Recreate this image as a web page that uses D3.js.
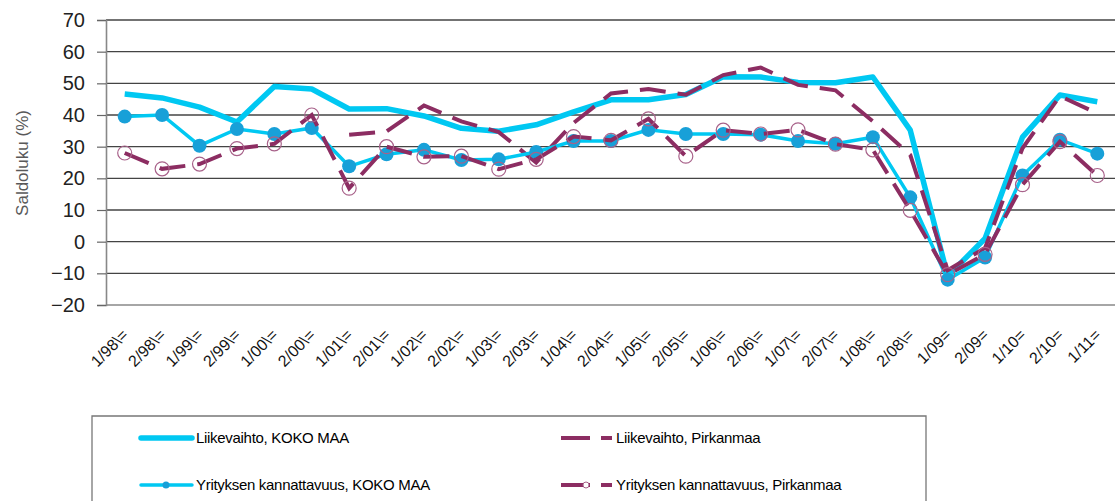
<!DOCTYPE html>
<html>
<head>
<meta charset="utf-8">
<script src="https://cdn.jsdelivr.net/npm/d3@7"></script>
<style>
  body { margin: 0; background: #fff; }
  #chart { width: 1115px; height: 501px; }
  text { font-family: "Liberation Sans", Arial, sans-serif; }
</style>
</head>
<body>
<div id="chart"></div>
<script>
//Datos
const periodos = ['1/98\\=','2/98\\=','1/99\\=','2/99\\=','1/00\\=','2/00\\=','1/01\\=','2/01\\=','1/02\\=','2/02\\=',
    '1/03\\=','2/03\\=','1/04\\=','2/04\\=','1/05\\=','2/05\\=','1/06\\=','2/06\\=','1/07\\=','2/07\\=',
    '1/08\\=','2/08\\=','1/09=','2/09=','1/10=','2/10=','1/11='];

const liikevaihtoKoko = [46.6, 45.4, 42.5, 37.8, 49, 48.2, 41.9, 42, 39.7, 35.8, 34.9, 36.9, 41, 44.8, 44.8, 46.5,
    52.1, 52, 50.3, 50.2, 52, 35.2, -10.9, 1, 33, 46.3, 44.2];
const liikevaihtoPirk = [null, null, null, null, null, null, 33.8, 34.8, 43, 38, 34.6, 25, 37.5, 46.8, 48.2, 46.4,
    52.6, 55, 49.5, 47.8, 38, 27.4, -9, -2, 29.5, 46, 40.5];
const kannattavuusKoko = [39.5, 40, 30.3, 35.6, 34, 35.9, 23.8, 27.6, 29, 25.8, 26, 28.3, 31.8, 31.8, 35.3, 34,
    34, 33.8, 31.8, 30.9, 33, 14, -12, -5, 20.9, 32.2, 27.8];
const kannattavuusPirk = [28, 23, 24.5, 29.4, 30.9, 40, 16.9, 30, 26.8, 27, 22.9, 26, 33.2, 32, 38.8, 27, 35.2,
    34, 35.3, 30.8, 29, 9.9, -10.4, -4, 18, 31.6, 20.9];

const yTicks = [-20, -10, 0, 10, 20, 30, 40, 50, 60, 70];

const COLOR_CYAN = '#00C8F2',
    COLOR_CYAN_DOT = '#18A0D8',
    COLOR_PURPLE = '#8C2D62',
    COLOR_PURPLE_DOT = '#A8628A';

let svg = d3.select('#chart')
    .append('svg')
    .attr('width', 1115)
    .attr('height', 501);

let x = d3.scalePoint()
    .domain(periodos)
    .range([106, 1116])
    .padding(0.5);

let y = d3.scaleLinear()
    .domain([-20, 70])
    .range([305, 20]);

//Rejilla
svg.append('g')
    .selectAll('line')
    .data(yTicks.filter(d => d > -20))
    .enter()
    .append('line')
    .attr('x1', 106)
    .attr('x2', 1115)
    .attr('y1', d => y(d))
    .attr('y2', d => y(d))
    .attr('stroke', '#444')
    .attr('stroke-width', 1.4);

//Eje Y
let yAxis = svg.append('g')
    .attr('transform', 'translate(106,0)')
    .call(d3.axisLeft(y).tickValues(yTicks).tickSize(9).tickPadding(12).tickFormat(d3.format('d')));
yAxis.select('.domain').attr('stroke', '#888').attr('stroke-width', 1.6);
yAxis.selectAll('.tick line').attr('stroke', '#666').attr('stroke-width', 1.2);
yAxis.selectAll('.tick text')
    .attr('font-size', 20)
    .attr('fill', '#222')
    .style('font-family', '"Liberation Sans", Arial, sans-serif');

//Eje X
let xAxis = svg.append('g')
    .attr('transform', 'translate(0,305)')
    .call(d3.axisBottom(x).tickSize(0).tickPadding(0));
xAxis.select('.domain').attr('d', 'M106,0H1115').attr('stroke', '#888').attr('stroke-width', 1.6);
xAxis.selectAll('.tick text')
    .attr('font-size', 16)
    .attr('fill', '#111')
    .attr('text-anchor', 'end')
    .attr('dy', 0)
    .attr('y', 0)
    .attr('transform', 'translate(4,31) rotate(-45)')
    .style('font-family', '"Liberation Sans", Arial, sans-serif');

//Título eje Y
svg.append('text')
    .attr('transform', 'translate(28,163) rotate(-90)')
    .attr('text-anchor', 'middle')
    .attr('font-size', 17)
    .attr('fill', '#595959')
    .text('Saldoluku (%)');

let line = d3.line()
    .defined(d => d !== null)
    .x((d, i) => x(periodos[i]))
    .y(d => y(d));

//Liikevaihto, KOKO MAA
svg.append('path')
    .datum(liikevaihtoKoko)
    .attr('d', line)
    .attr('fill', 'none')
    .attr('stroke', COLOR_CYAN)
    .attr('stroke-width', 5.5)
    .attr('stroke-linejoin', 'round');

//Liikevaihto, Pirkanmaa
svg.append('path')
    .datum(liikevaihtoPirk)
    .attr('d', line)
    .attr('fill', 'none')
    .attr('stroke', COLOR_PURPLE)
    .attr('stroke-width', 4)
    .attr('stroke-dasharray', '26,12');

//Yrityksen kannattavuus, KOKO MAA
svg.append('path')
    .datum(kannattavuusKoko)
    .attr('d', line)
    .attr('fill', 'none')
    .attr('stroke', COLOR_CYAN)
    .attr('stroke-width', 3.5);

svg.append('g')
    .selectAll('circle')
    .data(kannattavuusKoko)
    .enter()
    .append('circle')
    .attr('cx', (d, i) => x(periodos[i]))
    .attr('cy', d => y(d))
    .attr('r', 7)
    .attr('fill', COLOR_CYAN_DOT);

//Yrityksen kannattavuus, Pirkanmaa
svg.append('path')
    .datum(kannattavuusPirk)
    .attr('d', line)
    .attr('fill', 'none')
    .attr('stroke', COLOR_PURPLE)
    .attr('stroke-width', 4)
    .attr('stroke-dasharray', '26,12');

svg.append('g')
    .selectAll('circle')
    .data(kannattavuusPirk)
    .enter()
    .append('circle')
    .attr('cx', (d, i) => x(periodos[i]))
    .attr('cy', d => y(d))
    .attr('r', 7)
    .attr('fill', 'none')
    .attr('stroke', COLOR_PURPLE_DOT)
    .attr('stroke-width', 1.2);

//Leyenda
svg.append('path')
    .attr('d', 'M92,502V416H926V502')
    .attr('fill', 'none')
    .attr('stroke', '#777')
    .attr('stroke-width', 1.3);

let leyenda = [
    {name: 'Liikevaihto, KOKO MAA', x: 141, y: 438, tipo: 'koko'},
    {name: 'Liikevaihto, Pirkanmaa', x: 561, y: 438, tipo: 'pirk'},
    {name: 'Yrityksen kannattavuus, KOKO MAA', x: 141, y: 485, tipo: 'kokoDot'},
    {name: 'Yrityksen kannattavuus, Pirkanmaa', x: 561, y: 485, tipo: 'pirkDot'}
];

leyenda.forEach(function(l) {
    let g = svg.append('g').attr('transform', 'translate(' + l.x + ',' + l.y + ')');
    if (l.tipo === 'koko') {
        g.append('line').attr('x1', 0).attr('x2', 51).attr('stroke', COLOR_CYAN).attr('stroke-width', 5.5).attr('stroke-linecap', 'round');
    } else if (l.tipo === 'kokoDot') {
        g.append('line').attr('x1', 0).attr('x2', 51).attr('stroke', COLOR_CYAN).attr('stroke-width', 3.5).attr('stroke-linecap', 'round');
        g.append('circle').attr('cx', 25).attr('r', 3.5).attr('fill', COLOR_CYAN_DOT);
    } else {
        g.append('line').attr('x1', 0).attr('x2', 51).attr('stroke', COLOR_PURPLE).attr('stroke-width', 4).attr('stroke-dasharray', '29,11,11');
        if (l.tipo === 'pirkDot') {
            g.append('circle').attr('cx', 25).attr('r', 3).attr('fill', '#fff').attr('stroke', COLOR_PURPLE_DOT).attr('stroke-width', 1);
        }
    }
    g.append('text')
        .attr('x', 55)
        .attr('dy', '0.35em')
        .attr('font-size', 15)
        .attr('fill', '#000')
        .attr('letter-spacing', -0.3)
        .text(l.name);
});
</script>
</body>
</html>
